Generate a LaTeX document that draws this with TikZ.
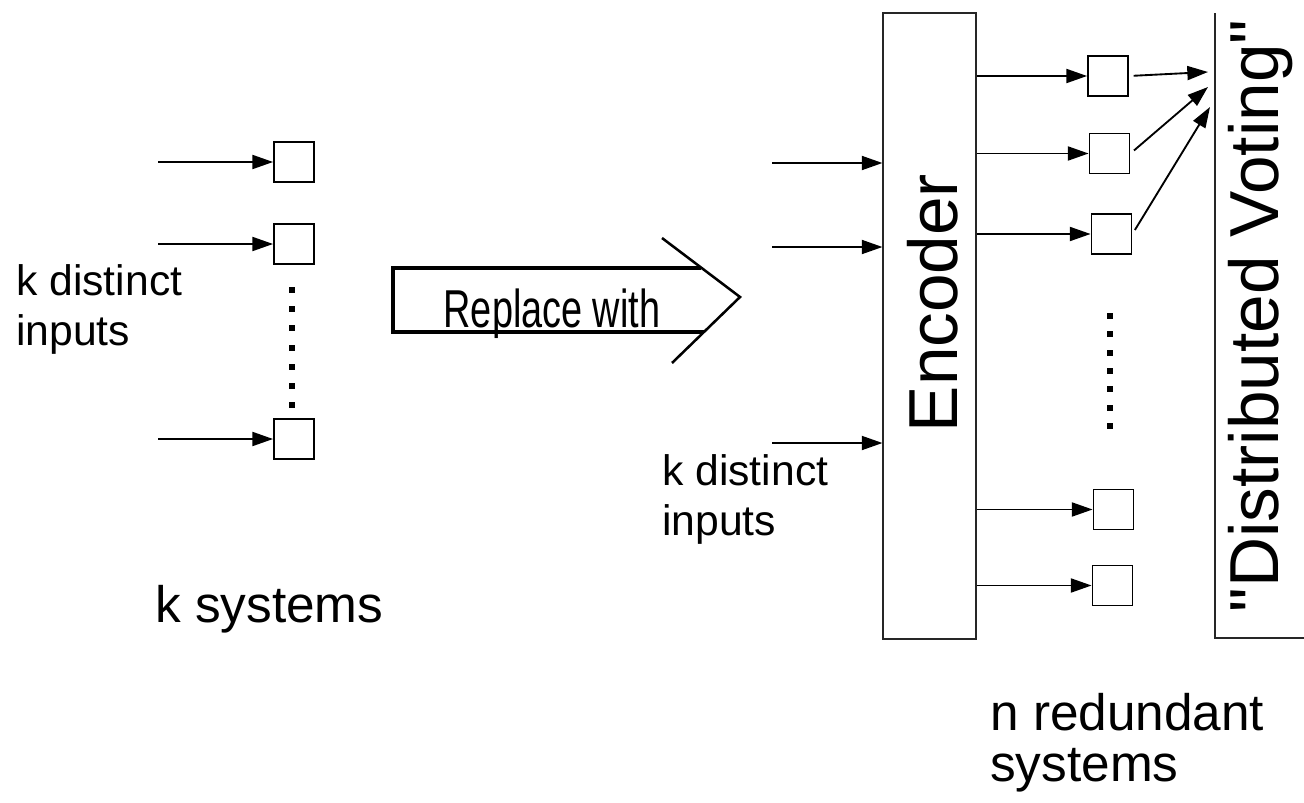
\documentclass[tikz,border=0pt]{standalone}
\usepackage{fontspec}
\setmainfont{Liberation Sans}
\usetikzlibrary{arrows.meta}

\begin{document}
\begin{tikzpicture}[x=0.75pt,y=-0.75pt,
sysbox/.style={draw,line width=1.4pt,minimum size=30pt,inner sep=0pt},
arrow/.style={-{Triangle[length=15.5pt,width=10.5pt]},line width=1.4pt},
bigbox/.style={draw,black!85,line width=0.8pt,inner sep=0pt},
smalltxt/.style={font=\fontsize{32}{37.5}\selectfont,align=left,inner sep=0pt},
midtxt/.style={font=\fontsize{38.5}{38}\selectfont,align=left,inner sep=0pt},
bigtxt/.style={font=\fontsize{52}{60}\selectfont,inner sep=0pt,rotate=90,anchor=base},
thick/.style={line width=2.3pt}]

\useasboundingbox (0,0) rectangle (1304,803);

\node[sysbox] (s1) at (294,162) {};

\node[sysbox] (s2) at (294,244) {};

\node[sysbox] (s3) at (294,439) {};

\coordinate (a1) at (158,162);

\coordinate (a2) at (158,244);

\coordinate (a3) at (158,439);

\draw[arrow] (a1) -- (s1);

\draw[arrow] (a2) -- (s2);

\draw[arrow] (a3) -- (s3);

\foreach \i in {0,...,6}
  \fill (289,{287+19.2*\i}) rectangle ++(6,6);

\node[smalltxt,anchor=base west] (kin) at (16,345) {k distinct\\inputs};

\node[midtxt,anchor=base west] (ksys) at (155,622) {k systems};

\draw[thick] (701,268) -- (393,268) -- (393,332) -- (704,332);

\draw[line width=1.9pt] (662,238) -- (740,297) -- (672,363);

\node[inner sep=0pt,anchor=base,font=\fontsize{40}{48}\selectfont] (repl) at (552,327) {\scalebox{0.71}[1]{Replace with}};

\node[bigbox,minimum width=69.75pt,minimum height=469.5pt] (enc) at (929.5,326) {};

\node[bigtxt] (enctxt) at (957,303) {Encoder};

\coordinate (b1) at (772,163);

\coordinate (b2) at (772,247);

\coordinate (b3) at (772,443);

\draw[arrow] (b1) -- (b1 -| enc.west);

\draw[arrow] (b2) -- (b2 -| enc.west);

\draw[arrow] (b3) -- (b3 -| enc.west);

\node[smalltxt,anchor=base west] (kin2) at (662,535) {k distinct\\inputs};

\node[sysbox] (r1) at (1108,76) {};

\node[sysbox] (r2) at (1109.5,153.5) {};

\node[sysbox] (r3) at (1111.5,234) {};

\node[sysbox] (r4) at (1113.5,509.5) {};

\node[sysbox] (r5) at (1112.5,585.5) {};

\draw[arrow] (enc.east |- r1) -- (r1);

\draw[arrow] (enc.east |- r2) -- (r2);

\draw[arrow] (enc.east |- r3) -- (r3);

\draw[arrow] (enc.east |- r4) -- (r4);

\draw[arrow] (enc.east |- r5) -- (r5);

\foreach \i in {0,...,6}
  \fill (1107,{313+18.33*\i}) rectangle ++(6,6);

\draw[bigbox] (1304,638) -- (1215,638) -- (1215,13);

\coordinate (v1) at (1208,72);

\coordinate (v2) at (1208,87);

\coordinate (v3) at (1210,107);

\draw[arrow,shorten <=3.5pt] (r1.east) -- (v1);

\draw[arrow,shorten <=3.5pt] (r2.east) -- (v2);

\draw[arrow,shorten <=3.5pt] (r3.east) -- (v3);

\node[bigtxt] (vote) at (1278,316) {\textquotedbl Distributed Voting\textquotedbl};

\node[midtxt,anchor=base west] (nred) at (990,781) {n redundant\\systems};

\end{tikzpicture}
\end{document}
